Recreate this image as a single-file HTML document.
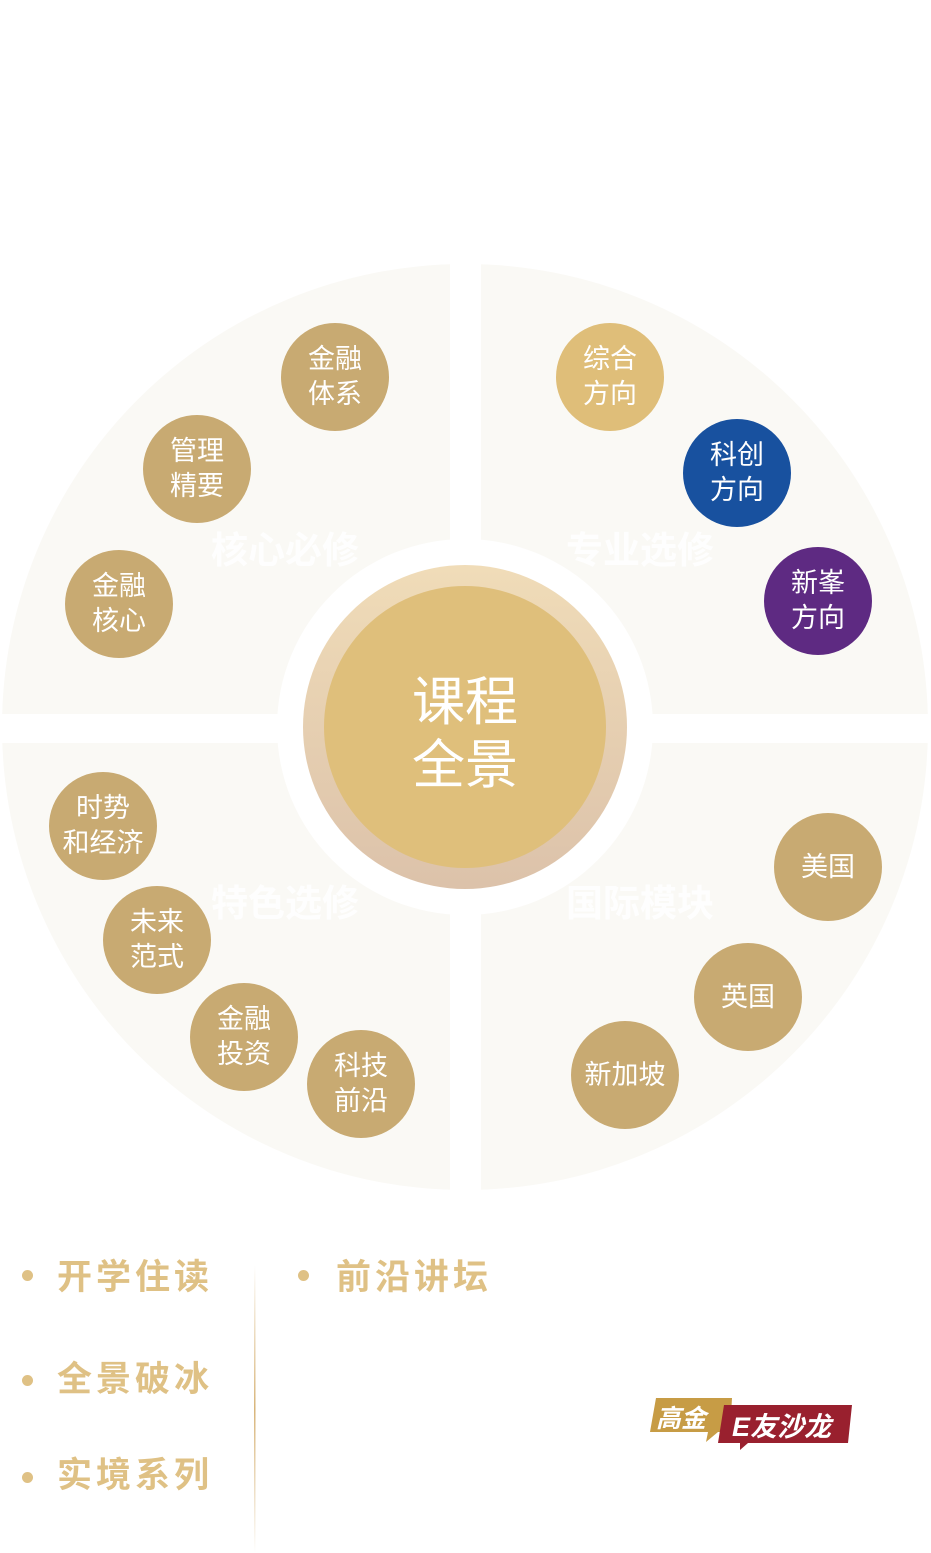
<!DOCTYPE html>
<html><head><meta charset="utf-8"><style>
body{margin:0;width:931px;height:1553px;background:#fff;position:relative;overflow:hidden;font-family:"Liberation Sans","Noto Sans CJK SC",sans-serif}
.n{position:absolute;width:108px;height:108px;border-radius:50%;background:#c8aa72;color:#fff;font-size:27px;line-height:35px;display:flex;align-items:center;justify-content:center;text-align:center}
.b{position:absolute;color:#dfc185;font-weight:bold;font-size:35px;line-height:40px;letter-spacing:4px}
.d{position:absolute;width:11px;height:11px;border-radius:50%;background:#dfc185}
</style></head><body>
<svg width="931" height="1553" style="position:absolute;left:0;top:0">
<defs><linearGradient id="g" x1="0" y1="0" x2="0" y2="1"><stop offset="0" stop-color="#f0dcb8"/><stop offset="1" stop-color="#dcc2aa"/></linearGradient>
<linearGradient id="v" x1="0" y1="0" x2="0" y2="1"><stop offset="0" stop-color="#fff"/><stop offset="0.5" stop-color="#d8b57a"/><stop offset="1" stop-color="#fff"/></linearGradient></defs>
<circle cx="465" cy="727" r="463" fill="#faf9f5"/>
<rect x="450" y="250" width="31" height="960" fill="#fff"/>
<rect x="0" y="714" width="931" height="29" fill="#fff"/>
<circle cx="465" cy="727" r="188" fill="#fff"/>
<circle cx="465" cy="727" r="162" fill="url(#g)"/>
<circle cx="465" cy="727" r="141" fill="#dfbf7b"/>
<g fill="#fff" font-size="37" font-weight="bold" font-family="Liberation Sans,Noto Sans CJK SC,sans-serif" opacity="0.9">
<text x="211" y="563">核心必修</text><text x="566" y="563">专业选修</text>
<text x="211" y="916">特色选修</text><text x="566" y="916">国际模块</text></g>
<g fill="#fff" font-size="53" font-family="Liberation Sans,Noto Sans CJK SC,sans-serif" text-anchor="middle">
<text x="465" y="720">课程</text><text x="465" y="783">全景</text></g>
<rect x="254" y="1265" width="1.5" height="288" fill="url(#v)"/>
<polygon points="656,1398 732,1398 730,1432 718,1432 706,1442 708,1432 650,1432" fill="#c79c45"/>
<polygon points="724,1405 852,1405 848,1443 748,1443 740,1450 740,1443 718,1443" fill="#99202e"/>
<g fill="#fff" font-weight="bold" font-style="italic" font-family="Liberation Sans,Noto Sans CJK SC,sans-serif">
<text x="656" y="1427" font-size="25">高金</text><text x="732" y="1436" font-size="27">E友沙龙</text></g>
</svg>
<div class="n" style="left:281px;top:323px">金融<br>体系</div>
<div class="n" style="left:143px;top:415px">管理<br>精要</div>
<div class="n" style="left:65px;top:550px">金融<br>核心</div>
<div class="n" style="left:556px;top:323px;background:#dfbe79">综合<br>方向</div>
<div class="n" style="left:683px;top:419px;background:#18519f">科创<br>方向</div>
<div class="n" style="left:764px;top:547px;background:#5e2a82">新峯<br>方向</div>
<div class="n" style="left:49px;top:772px">时势<br>和经济</div>
<div class="n" style="left:103px;top:886px">未来<br>范式</div>
<div class="n" style="left:190px;top:983px">金融<br>投资</div>
<div class="n" style="left:307px;top:1030px">科技<br>前沿</div>
<div class="n" style="left:774px;top:813px">美国</div>
<div class="n" style="left:694px;top:943px">英国</div>
<div class="n" style="left:571px;top:1021px">新加坡</div>
<div class="d" style="left:22px;top:1270px"></div><div class="b" style="left:57px;top:1258px">开学住读</div>
<div class="d" style="left:22px;top:1375px"></div><div class="b" style="left:57px;top:1360px">全景破冰</div>
<div class="d" style="left:22px;top:1472px"></div><div class="b" style="left:57px;top:1456px">实境系列</div>
<div class="d" style="left:298px;top:1270px"></div><div class="b" style="left:336px;top:1258px">前沿讲坛</div>
</body></html>
